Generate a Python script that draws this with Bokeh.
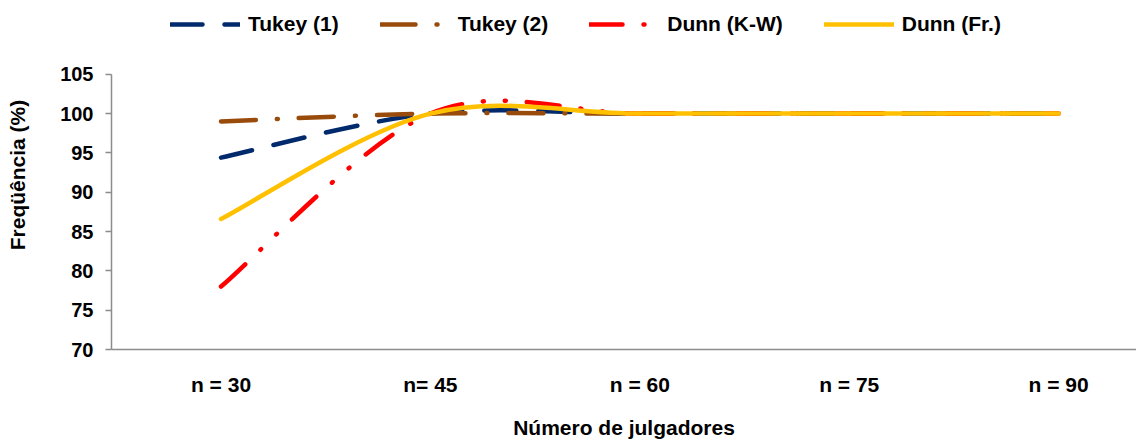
from bokeh.plotting import figure
from bokeh.models import Range1d, FixedTicker, Legend, LegendItem
from bokeh.embed import file_html
from bokeh.resources import INLINE

# ---- data ----
categories = ["n = 30", "n= 45", "n = 60", "n = 75", "n = 90"]
tukey1 = [94.4, 100, 100, 100, 100]
tukey2 = [99.0, 100, 100, 100, 100]
dunn_kw = [78.0, 100, 100, 100, 100]
dunn_fr = [86.6, 100, 100, 100, 100]
y_ticks = [70, 75, 80, 85, 90, 95, 100, 105]

FONT = "Liberation Sans"
AXIS_GRAY = "#8c8c8c"

xs = list(range(len(categories)))

# frame spans the full figure height so the legend (drawn inside the frame)
# can sit above the 70..105 axis; the axis itself is bounded to 70..105.
p = figure(width=1136, height=441,
           x_range=Range1d(-0.523, 4.372), y_range=Range1d(70, 114.38),
           output_backend="svg", toolbar_location=None,
           min_border_left=111, min_border_right=0,
           min_border_top=0, min_border_bottom=91)
p.xgrid.visible = False
p.ygrid.visible = False
p.outline_line_color = None
p.background_fill_color = "white"
p.border_fill_color = "white"


def smooth_segments(x, y):
    """Excel-like smoothed line: cubic Bezier segments (Catmull-Rom tangents)."""
    n = len(x)
    px = [x[0]] + list(x) + [x[-1]]
    py = [y[0]] + list(y) + [y[-1]]
    seg = dict(x0=[], y0=[], x1=[], y1=[], cx0=[], cy0=[], cx1=[], cy1=[])
    for i in range(n - 1):
        a, b, c, d = i, i + 1, i + 2, i + 3
        seg["x0"].append(px[b]); seg["y0"].append(py[b])
        seg["x1"].append(px[c]); seg["y1"].append(py[c])
        seg["cx0"].append(px[b] + (px[c] - px[a]) / 6.0)
        seg["cy0"].append(py[b] + (py[c] - py[a]) / 6.0)
        seg["cx1"].append(px[c] - (px[d] - px[b]) / 6.0)
        seg["cy1"].append(py[c] - (py[d] - py[b]) / 6.0)
    return seg


series = [
    ("Tukey (1)", tukey1, "#002a6b", "32 22"),
    ("Tukey (2)", tukey2, "#984b0a", "35 21 1 21"),
    ("Dunn (K-W)", dunn_kw, "#ff0000", "33 21 1 21 1 21"),
    ("Dunn (Fr.)", dunn_fr, "#ffc000", "solid"),
]

items = []
for label, vals, color, dash in series:
    s = smooth_segments(xs, vals)
    r = p.bezier(x0=s["x0"], y0=s["y0"], x1=s["x1"], y1=s["y1"],
                 cx0=s["cx0"], cy0=s["cy0"], cx1=s["cx1"], cy1=s["cy1"],
                 line_color=color, line_width=4.5, line_dash=dash,
                 line_cap="round")
    items.append(LegendItem(label=label, renderers=[r]))

legend = Legend(items=items, orientation="horizontal", location=(59, 313),
                glyph_width=70, glyph_height=20, label_standoff=8, spacing=41,
                padding=0, margin=0, border_line_color=None,
                background_fill_alpha=0,
                label_text_font=FONT, label_text_font_style="bold",
                label_text_font_size="21px", label_text_color="black")
p.add_layout(legend)

# y axis
yax = p.yaxis[0]
yax.ticker = FixedTicker(ticks=y_ticks)
yax.bounds = (70, 105)
yax.axis_line_color = AXIS_GRAY
yax.axis_line_width = 1.5
yax.major_tick_line_color = AXIS_GRAY
yax.major_tick_line_width = 1.5
yax.major_tick_out = 6
yax.major_tick_in = 0
yax.minor_tick_line_color = None
yax.major_label_standoff = 12
yax.major_label_text_font = FONT
yax.major_label_text_font_style = "bold"
yax.major_label_text_font_size = "20px"
yax.major_label_text_color = "black"
yax.axis_label = "Freqüência (%)"
yax.axis_label_standoff = 28
yax.axis_label_text_font = FONT
yax.axis_label_text_font_style = "bold"
yax.axis_label_text_font_size = "21px"
yax.axis_label_text_color = "black"

# x axis
xax = p.xaxis[0]
xax.ticker = FixedTicker(ticks=xs)
xax.major_label_overrides = {i: c for i, c in zip(xs, categories)}
xax.axis_line_color = AXIS_GRAY
xax.axis_line_width = 1.5
xax.major_tick_line_color = None
xax.major_tick_out = 0
xax.major_tick_in = 0
xax.minor_tick_line_color = None
xax.major_label_standoff = 23
xax.major_label_text_font = FONT
xax.major_label_text_font_style = "bold"
xax.major_label_text_font_size = "21px"
xax.major_label_text_color = "black"
xax.axis_label = "Número de julgadores"
xax.axis_label_standoff = 17
xax.axis_label_text_font = FONT
xax.axis_label_text_font_style = "bold"
xax.axis_label_text_font_size = "21px"
xax.axis_label_text_color = "black"

open("out.html", "w").write(file_html(p, INLINE))
